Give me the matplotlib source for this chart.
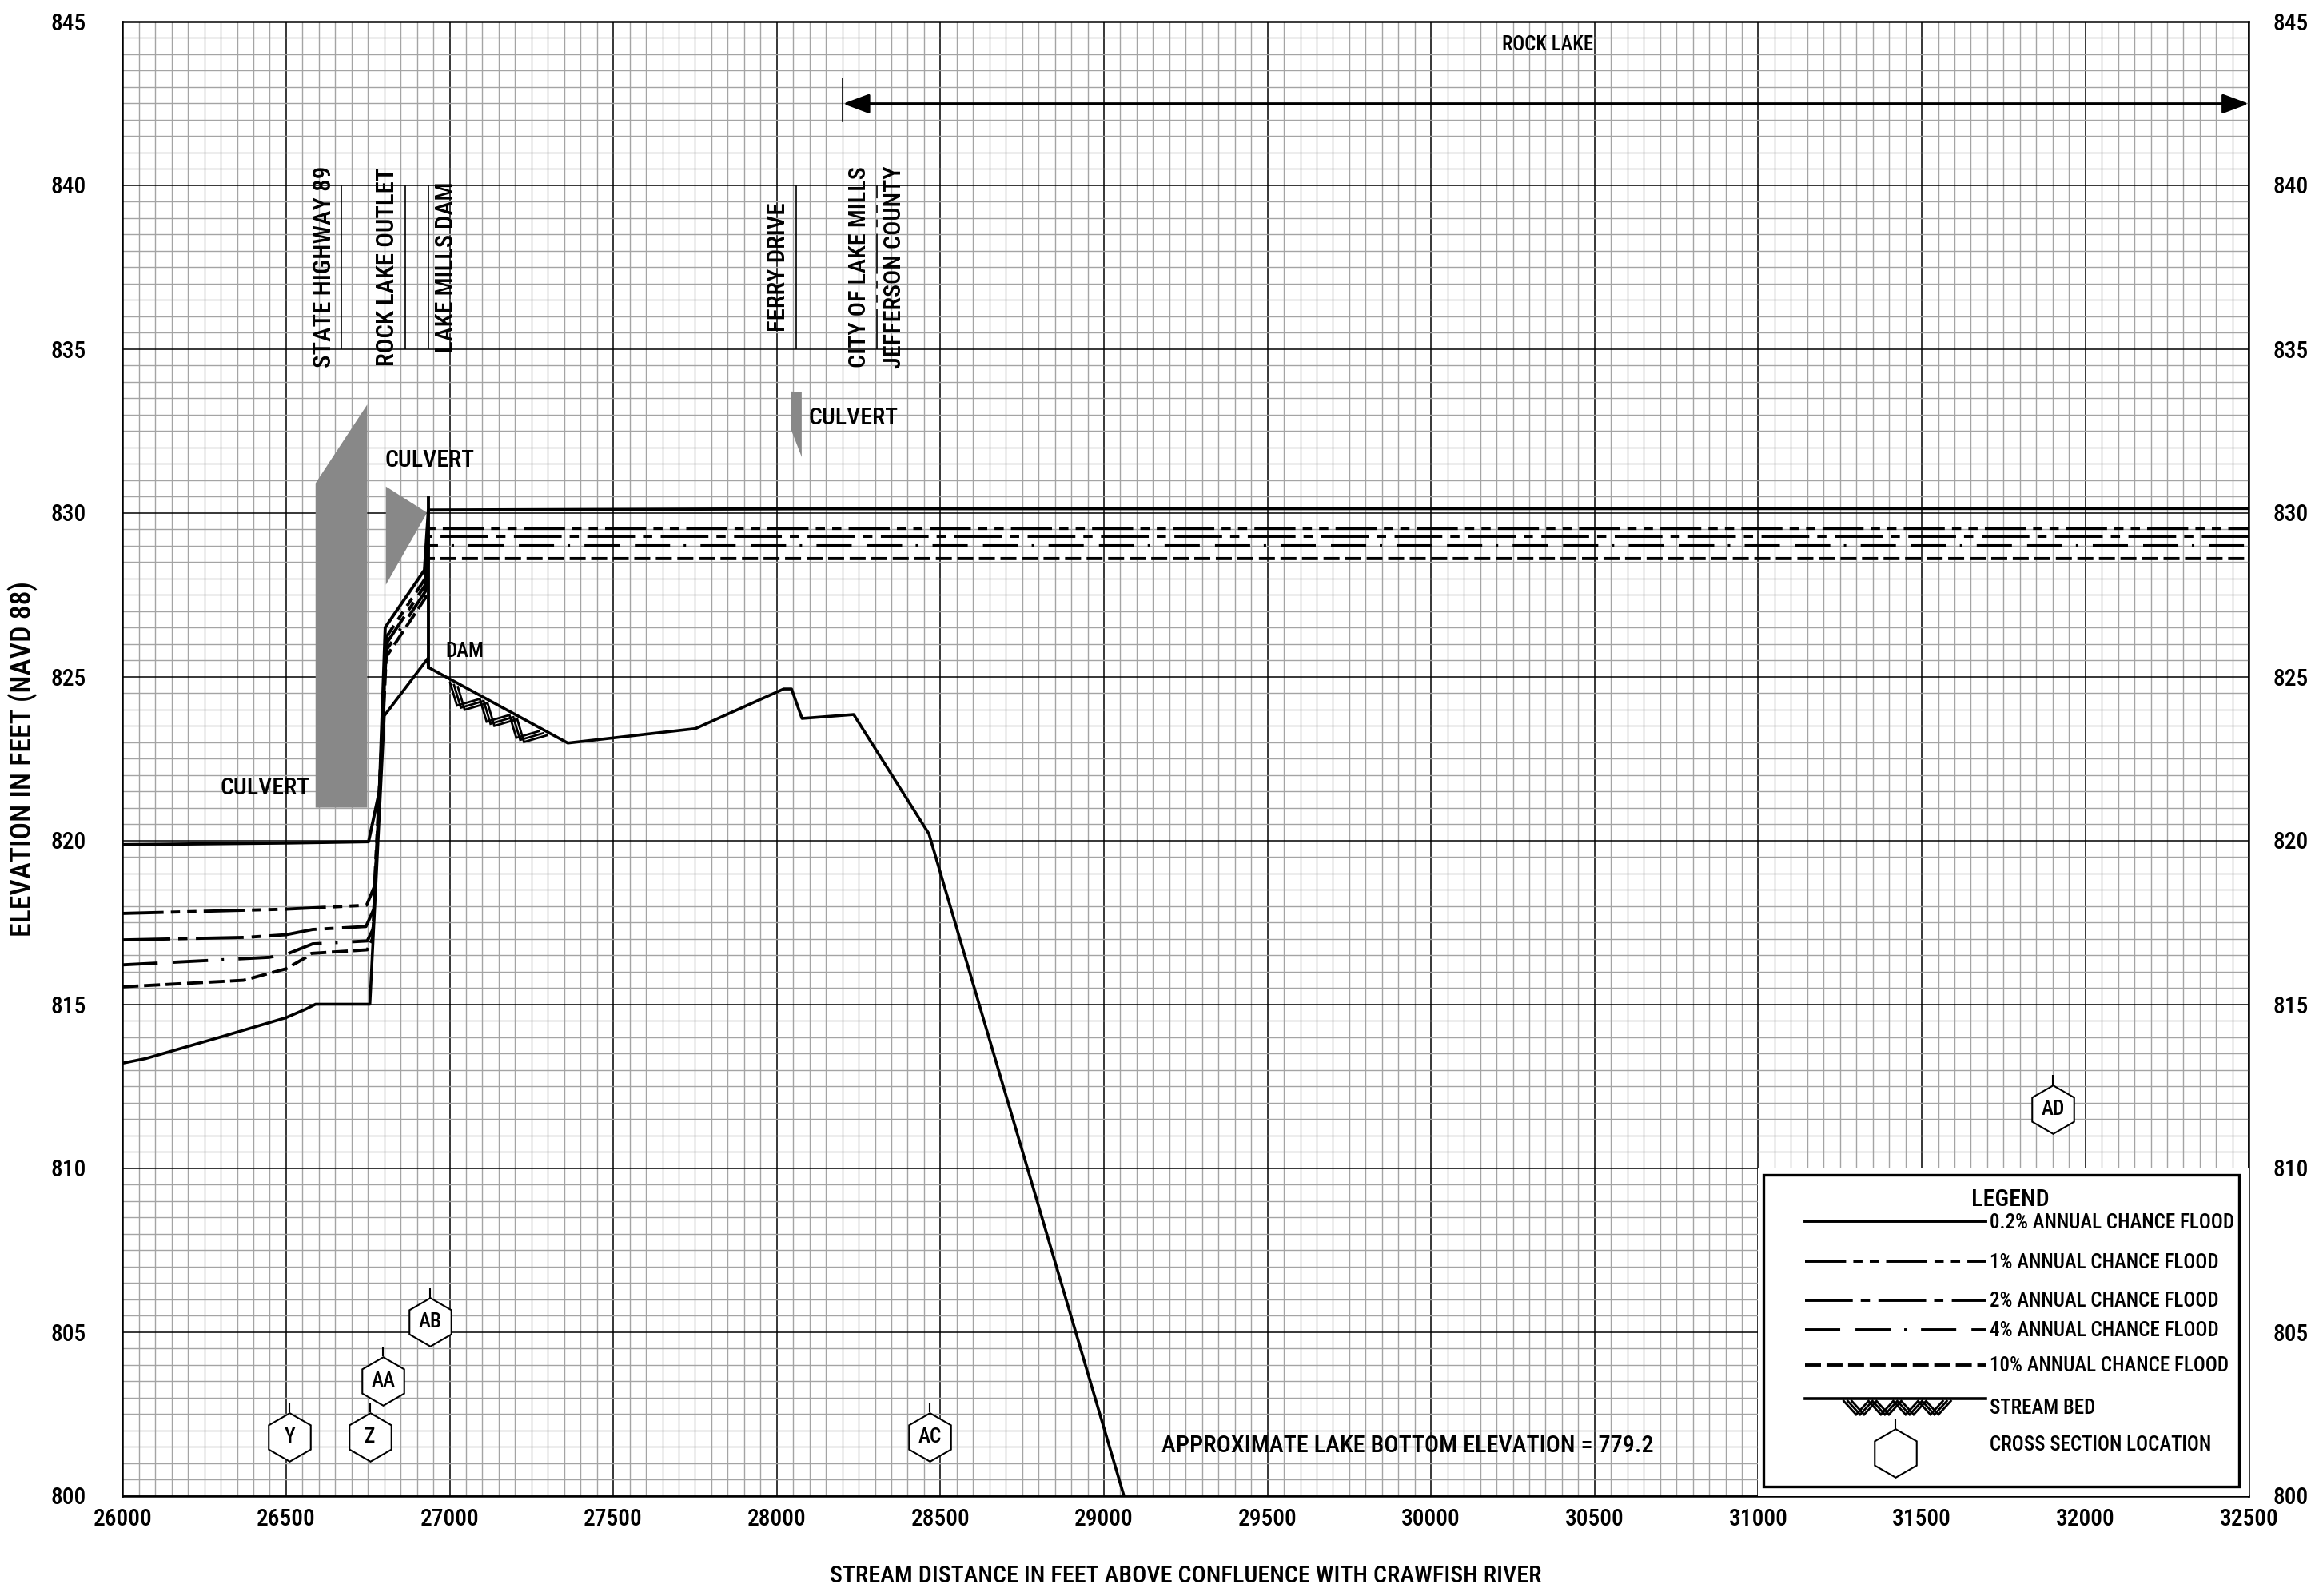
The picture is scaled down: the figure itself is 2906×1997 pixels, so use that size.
import numpy as np
import matplotlib
matplotlib.use("Agg")
import matplotlib.pyplot as plt
import matplotlib.font_manager as fm
import matplotlib.transforms as mtransforms
from matplotlib.patches import Rectangle
from matplotlib.ticker import MultipleLocator

# ---------------------------------------------------------------- DATA
x_ticks = [26000, 26500, 27000, 27500, 28000, 28500, 29000, 29500,
           30000, 30500, 31000, 31500, 32000, 32500]
y_ticks = [800, 805, 810, 815, 820, 825, 830, 835, 840, 845]

stream_dist = [26000, 26070, 26300, 26500, 26560, 26590, 26756, 26800, 26933,
               26935, 27361, 27751, 28021, 28045, 28077, 28235, 28465, 29061]
stream_elev = [813.20, 813.34, 814.00, 814.59, 814.85, 815.00, 815.00, 823.80,
               825.55, 825.28, 822.97, 823.41, 824.62, 824.62, 823.72, 823.84,
               820.20, 800.00]

flood02_dist = [26000, 26500, 26752, 26785, 26803, 26923, 26935, 28100, 32500]
flood02_elev = [819.87, 819.92, 819.96, 821.50, 826.50, 828.25, 830.08, 830.12, 830.13]

flood1_dist = [26000, 26500, 26746, 26770, 26790, 26806, 26926, 26935, 32500]
flood1_elev = [817.77, 817.90, 818.02, 818.60, 822.60, 826.20, 828.00, 829.52, 829.52]

flood2_dist = [26000, 26378, 26500, 26581, 26744, 26768, 26790, 26806, 26926, 26935, 32500]
flood2_elev = [816.96, 817.04, 817.12, 817.28, 817.37, 817.90, 822.50, 826.00, 827.80,
               829.28, 829.28]

flood4_dist = [26000, 26447, 26500, 26581, 26748, 26766, 26790, 26806, 26926, 26935, 32500]
flood4_elev = [816.20, 816.43, 816.52, 816.84, 816.93, 817.30, 822.40, 825.80, 827.60,
               828.99, 828.99]

flood10_dist = [26000, 26370, 26500, 26561, 26577, 26748, 26764, 26790, 26806, 26926,
                26935, 32500]
flood10_elev = [815.53, 815.73, 816.08, 816.43, 816.55, 816.66, 817.00, 822.30, 825.60,
                827.40, 828.60, 828.60]

dam_dist = 26935
dam_elev = [825.28, 830.45]

culvert_hwy_dist = [26590, 26748, 26748, 26590]
culvert_hwy_elev = [821.0, 821.0, 833.3, 830.9]
culvert_outlet_dist = [26805, 26931, 26805]
culvert_outlet_elev = [830.8, 830.0, 827.8]
culvert_ferry_dist = [28043, 28076, 28076, 28043]
culvert_ferry_elev = [833.70, 833.68, 831.70, 832.55]

structure_names = ["STATE HIGHWAY 89", "ROCK LAKE OUTLET", "LAKE MILLS DAM", "FERRY DRIVE"]
structure_dist = [26669, 26864, 26936, 28059]
structure_side = [-1, -1, 1, -1]

limit_dist = 28305
limit_names = ["CITY OF LAKE MILLS", "JEFFERSON COUNTY"]

xsec_labels = ["Y", "Z", "AA", "AB", "AC", "AD"]
xsec_dist = [26511, 26756, 26797, 26941, 28468, 31901]
xsec_elev = [801.8, 801.8, 803.5, 805.3, 801.8, 811.8]

rock_lake_extent = [28202, 32500]
rock_lake_elev = 842.48

legend_labels = ["0.2% ANNUAL CHANCE FLOOD", "1% ANNUAL CHANCE FLOOD",
                 "2% ANNUAL CHANCE FLOOD", "4% ANNUAL CHANCE FLOOD",
                 "10% ANNUAL CHANCE FLOOD"]

# ---------------------------------------------------------------- FONTS
def pick_font():
    entries = fm.fontManager.ttflist
    names = {e.name for e in entries}
    for p in ["Roboto Condensed", "Liberation Sans Narrow", "Open Sans Condensed",
              "Noto Sans Condensed", "DejaVu Sans Condensed", "Arial Narrow"]:
        if p in names:
            return fm.FontProperties(family=p, weight=500)
    cond = [e for e in entries
            if str(e.stretch) in ("condensed", "semi-condensed", "extra-condensed")
            and e.style == "normal" and str(e.weight) in ("400", "normal", "regular", "book")]
    cond.sort(key=lambda e: ("Serif" in e.name, "Mono" in e.name))
    if cond:
        return fm.FontProperties(fname=cond[0].fname)
    return fm.FontProperties(family="Liberation Sans")

FP = pick_font()


def fprop(size):
    p = FP.copy()
    p.set_size(size)
    return p


plt.rcParams["lines.scale_dashes"] = False

W, H, DPI = 2906, 1997, 100
fig = plt.figure(figsize=(W / DPI, H / DPI), dpi=DPI)
fig.patch.set_facecolor("white")
renderer = fig.canvas.get_renderer()

AX_L, AX_R, AX_T, AX_B = 153.3, 2813.3, 26.5, 1871.5
ax = fig.add_axes([AX_L / W, 1 - AX_B / H, (AX_R - AX_L) / W, (AX_B - AX_T) / H])
ax.set_xlim(26000, 32500)
ax.set_ylim(800, 845)


def fit_size(s, target, rotation=0):
    t = fig.text(0, 0, s, fontproperties=fprop(20), rotation=rotation)
    bb = t.get_window_extent(renderer)
    cur = bb.height if rotation else bb.width
    t.remove()
    return 20 * target / cur


def put(axis, x, y, s, target, rotation=0, **kw):
    size = fit_size(s, target, rotation)
    return axis.text(x, y, s, fontproperties=fprop(size), rotation=rotation, **kw)


# grid
ax.xaxis.set_minor_locator(MultipleLocator(50))
ax.yaxis.set_minor_locator(MultipleLocator(0.5))
ax.grid(which="minor", color="#a4a4a4", lw=1.0)
ax.grid(which="major", color="black", lw=1.1)
ax.set_axisbelow(True)
for sp in ax.spines.values():
    sp.set_linewidth(1.8)

tick_size = fit_size("26000", 74)
ax.set_xticks(x_ticks)
ax.set_xticklabels([str(v) for v in x_ticks], fontproperties=fprop(tick_size))
ax.set_yticks(y_ticks)
ax.set_yticklabels([str(v) for v in y_ticks], fontproperties=fprop(tick_size))
ax.tick_params(which="both", length=0)
ax.tick_params(axis="x", pad=11)
ax.tick_params(axis="y", pad=33)

ax2 = ax.twinx()
ax2.set_ylim(800, 845)
ax2.set_yticks(y_ticks)
ax2.set_yticklabels([str(v) for v in y_ticks], fontproperties=fprop(tick_size))
ax2.tick_params(length=0, pad=22)
for sp in ax2.spines.values():
    sp.set_visible(False)

# ---------------------------------------------------------------- STYLES
LW = 2.8
styles = {
    "0.2": dict(color="black", lw=LW, ls="-"),
    "1": dict(color="black", lw=LW, ls=(0, (37, 6.5, 8.3, 6.5, 8.3, 6.5))),
    "2": dict(color="black", lw=LW, ls=(0, (43, 7.2, 8.3, 7.6))),
    "4": dict(color="black", lw=LW, ls=(0, (31.7, 13.7, 31.7, 12.2, 2.2, 13))),
    "10": dict(color="black", lw=LW, ls=(0, (14.4, 5))),
}
CULVERT_GRAY = "#888888"

# culverts
ax.fill(culvert_hwy_dist, culvert_hwy_elev, color=CULVERT_GRAY, lw=0, zorder=3)
ax.fill(culvert_outlet_dist, culvert_outlet_elev, color=CULVERT_GRAY, lw=0, zorder=3)
ax.fill(culvert_ferry_dist, culvert_ferry_elev, color=CULVERT_GRAY, lw=0, zorder=3)

# flood profiles
ax.plot(flood10_dist, flood10_elev, zorder=4, **styles["10"])
ax.plot(flood4_dist, flood4_elev, zorder=4, **styles["4"])
ax.plot(flood2_dist, flood2_elev, zorder=4, **styles["2"])
ax.plot(flood1_dist, flood1_elev, zorder=4, **styles["1"])
ax.plot(flood02_dist, flood02_elev, zorder=4, **styles["0.2"])

# stream bed and dam
ax.plot(stream_dist, stream_elev, color="black", lw=2.6, zorder=5)
ax.plot([dam_dist, dam_dist], dam_elev, color="black", lw=2.8, zorder=5)


def draw_hatch(axis, p0, p1, n_v, depth, gap, spacing, lw):
    p0 = np.asarray(p0, float)
    p1 = np.asarray(p1, float)
    u = p1 - p0
    L = np.hypot(*u)
    u = u / L
    n = np.array([u[1], -u[0]])
    half = L / (2 * n_v)
    for k in (-1, 0, 1):
        pts = np.array([p0 + u * (i * half + k * spacing) + n * (gap + (depth if i % 2 else 0))
                        for i in range(2 * n_v + 1)])
        axis.plot(pts[:, 0], pts[:, 1], transform=mtransforms.IdentityTransform(),
                  color="black", lw=lw, clip_on=False, zorder=5,
                  solid_joinstyle="miter")


h0 = 27018
h1 = 27290
p0 = ax.transData.transform((h0, np.interp(h0, stream_dist, stream_elev)))
p1 = ax.transData.transform((h1, np.interp(h1, stream_dist, stream_elev)))
draw_hatch(ax, p0, p1, 3, 21, 4, 5.5, 2.0)

# structures
ax.vlines(structure_dist, 835, 840, color="black", lw=1.2, zorder=4)
for name, d, side in zip(structure_names, structure_dist, structure_side):
    tr = mtransforms.offset_copy(ax.transData, fig=fig, x=side * 22, y=0, units="dots")
    length = {"STATE HIGHWAY 89": 252, "ROCK LAKE OUTLET": 248,
              "LAKE MILLS DAM": 214, "FERRY DRIVE": 162}[name]
    put(ax, d, 837.5, name, length, rotation=90, ha="center", va="center",
        transform=tr, zorder=6)

ax.vlines([limit_dist], 835, 840, color="black", lw=1.2,
          linestyles=[(0, (36, 6, 7, 6, 7, 6))], zorder=4)
for name, side, length in zip(limit_names, [-1, 1], [252, 254]):
    tr = mtransforms.offset_copy(ax.transData, fig=fig, x=side * 22, y=0, units="dots")
    put(ax, limit_dist, 837.5, name, length, rotation=90, ha="center", va="center",
        transform=tr, zorder=6)

# Rock Lake arrow
ax.annotate("", xy=(rock_lake_extent[1], rock_lake_elev),
            xytext=(rock_lake_extent[0], rock_lake_elev),
            arrowprops=dict(arrowstyle="<|-|>,head_length=20,head_width=7.5",
                            mutation_scale=1, lw=2.4, color="black",
                            shrinkA=0, shrinkB=0),
            annotation_clip=False, zorder=6)
ax.plot([rock_lake_extent[0]] * 2, [841.95, 843.25], color="black", lw=1.2, zorder=6)
put(ax, 30357, 844.29, "ROCK LAKE", 114, ha="center", va="center", zorder=6)

# text annotations
put(ax, 26572, 821.6, "CULVERT", 112, ha="right", va="center", zorder=6)
put(ax, 26801, 831.6, "CULVERT", 112, ha="left", va="center", zorder=6)
put(ax, 28097, 832.88, "CULVERT", 112, ha="left", va="center", zorder=6)
put(ax, 26987, 825.78, "DAM", 48, ha="left", va="center", zorder=6)
put(ax, 29929, 801.53, "APPROXIMATE LAKE BOTTOM ELEVATION = 779.2", 615,
    ha="center", va="center", zorder=6)

# cross sections
R_PX = 30.3
HEX_MS = 2 * R_PX * 72 / DPI
STEM_PX = 12.7
ax.plot(xsec_dist, xsec_elev, ls="none", marker="h", ms=HEX_MS, mfc="white",
        mec="black", mew=1.5, zorder=7)
stem_tr = mtransforms.offset_copy(ax.transData, fig=fig, x=0, y=R_PX + STEM_PX / 2,
                                  units="dots")
ax.plot(xsec_dist, xsec_elev, ls="none", marker="|", ms=STEM_PX * 72 / DPI,
        mew=1.5, color="black", transform=stem_tr, zorder=7, clip_on=False)
hex_size = fit_size("AA", 30)
for lab, d, e in zip(xsec_labels, xsec_dist, xsec_elev):
    ax.text(d, e, lab, fontproperties=fprop(hex_size), ha="center", va="center", zorder=8)

# axis titles
put(fig, 1483 / W, 1 - 1972 / H,
    "STREAM DISTANCE IN FEET ABOVE CONFLUENCE WITH CRAWFISH RIVER", 890,
    ha="center", va="center")
put(fig, 28 / W, 1 - 949 / H, "ELEVATION IN FEET (NAVD 88)", 445, rotation=90,
    ha="center", va="center")

# ---------------------------------------------------------------- LEGEND
lax = ax.inset_axes([31000, 800, 1500, 10], transform=ax.transData, zorder=9)
lax.set_xlim(0, 614)
lax.set_ylim(410, 0)
lax.set_facecolor("white")
lax.set_xticks([])
lax.set_yticks([])
for sp in lax.spines.values():
    sp.set_visible(False)
lax.add_patch(Rectangle((6.7, 8.5), 595, 390, fill=False, lw=2.4, ec="black"))
put(lax, 315.7, 39.2, "LEGEND", 98, ha="center", va="center")
leg_keys = ["0.2", "1", "2", "4", "10"]
line_y = [66.8, 116.8, 165.8, 202.5, 246.8]
text_y = [68.5, 118.5, 166.5, 203.5, 247.5]
leg_size = fit_size(legend_labels[0], 307)
for key, ly, ty, lab in zip(leg_keys, line_y, text_y, legend_labels):
    lax.plot([58.7, 284.3], [ly, ly], **styles[key])
    lax.text(289.4, ty, lab, fontproperties=fprop(leg_size), ha="left", va="center")
lax.plot([58.7, 284.3], [288.5, 288.5], color="black", lw=2.6)
q0 = lax.transData.transform((112, 288.5))
q1 = lax.transData.transform((236, 288.5))
draw_hatch(lax, q0, q1, 4, 17, 3, 5.0, 2.0)
lax.text(289.4, 300.2, "STREAM BED", fontproperties=fprop(leg_size), ha="left", va="center")
lax.text(289.4, 346.8, "CROSS SECTION LOCATION", fontproperties=fprop(leg_size),
         ha="left", va="center")
lax.plot([171.7], [356.8], ls="none", marker="h", ms=HEX_MS, mfc="white",
         mec="black", mew=1.5)
lax.plot([171.7, 171.7], [315.0, 326.5], color="black", lw=1.5)

fig.savefig("out.png", dpi=DPI, facecolor="white")
